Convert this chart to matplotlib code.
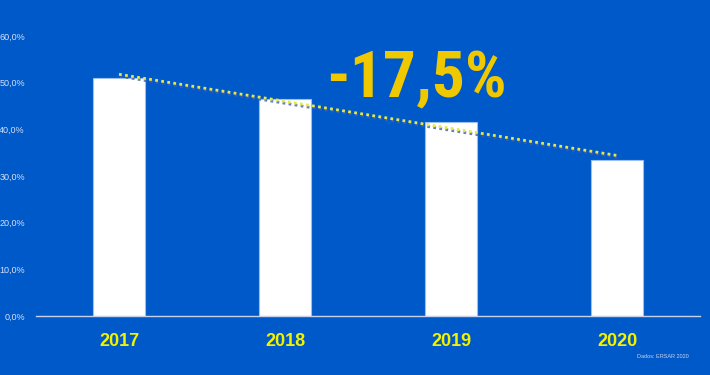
import numpy as np
import matplotlib.pyplot as plt
import matplotlib.patheffects as pe

# Data
years = ["2017", "2018", "2019", "2020"]
values = [51.1, 46.4, 41.5, 33.4]
y_ticks = [0, 10, 20, 30, 40, 50, 60]
change_label = "-17,5%"
source = "Dados: ERSAR 2020"

bg = "#0059C9"

fig = plt.figure(figsize=(7.1, 3.75), dpi=100)
fig.patch.set_facecolor(bg)
ax = fig.add_axes([36 / 710, 1 - 316 / 375, 664 / 710, 280 / 375])
ax.set_facecolor(bg)

x = np.arange(len(years))
ax.bar(x, values, width=0.31, color="white", edgecolor="#9DBDF0", linewidth=0.8, zorder=2)

# linear trend line, from first to last bar
slope, inter = np.polyfit(x, values, 1)
tx = np.array([0.0, 3.0])
ax.plot(tx, slope * tx + inter, linestyle=(0, (1, 1.2)), color="#E6E84A", linewidth=2.0, zorder=3,
        path_effects=[pe.SimpleLineShadow(offset=(0.5, -1.5), shadow_color="#4060B0", alpha=0.8),
                      pe.Normal()])

ax.set_xlim(-0.5, 3.5)
ax.set_ylim(0, 60)
ax.set_xticks(x)
ax.set_xticklabels(years, fontfamily="Liberation Sans", fontweight="bold", fontsize=13, color="#F2F200")
ax.set_yticks(y_ticks)
ax.set_yticklabels([f"{v:.1f}%".replace(".", ",") for v in y_ticks],
                   fontfamily="Liberation Sans", fontsize=6.5, color="#D6E0F5")
ax.tick_params(axis="x", length=0, pad=12)
ax.tick_params(axis="y", length=0, pad=8)

for s in ["top", "right", "left"]:
    ax.spines[s].set_visible(False)
ax.spines["bottom"].set_color("#C8D2E8")
ax.spines["bottom"].set_linewidth(1.0)

fig.text(416 / 710, 1 - 80 / 375, change_label, ha="center", va="center",
         fontfamily=["Roboto Condensed", "Liberation Sans"], fontweight="bold",
         fontsize=47, color="#F0C800")
fig.text(663 / 710, 1 - 357 / 375, source, ha="center", va="center",
         fontfamily="Liberation Sans", fontsize=4, color="#C8D4F0")

fig.savefig("out.png", dpi=100, facecolor=bg)
